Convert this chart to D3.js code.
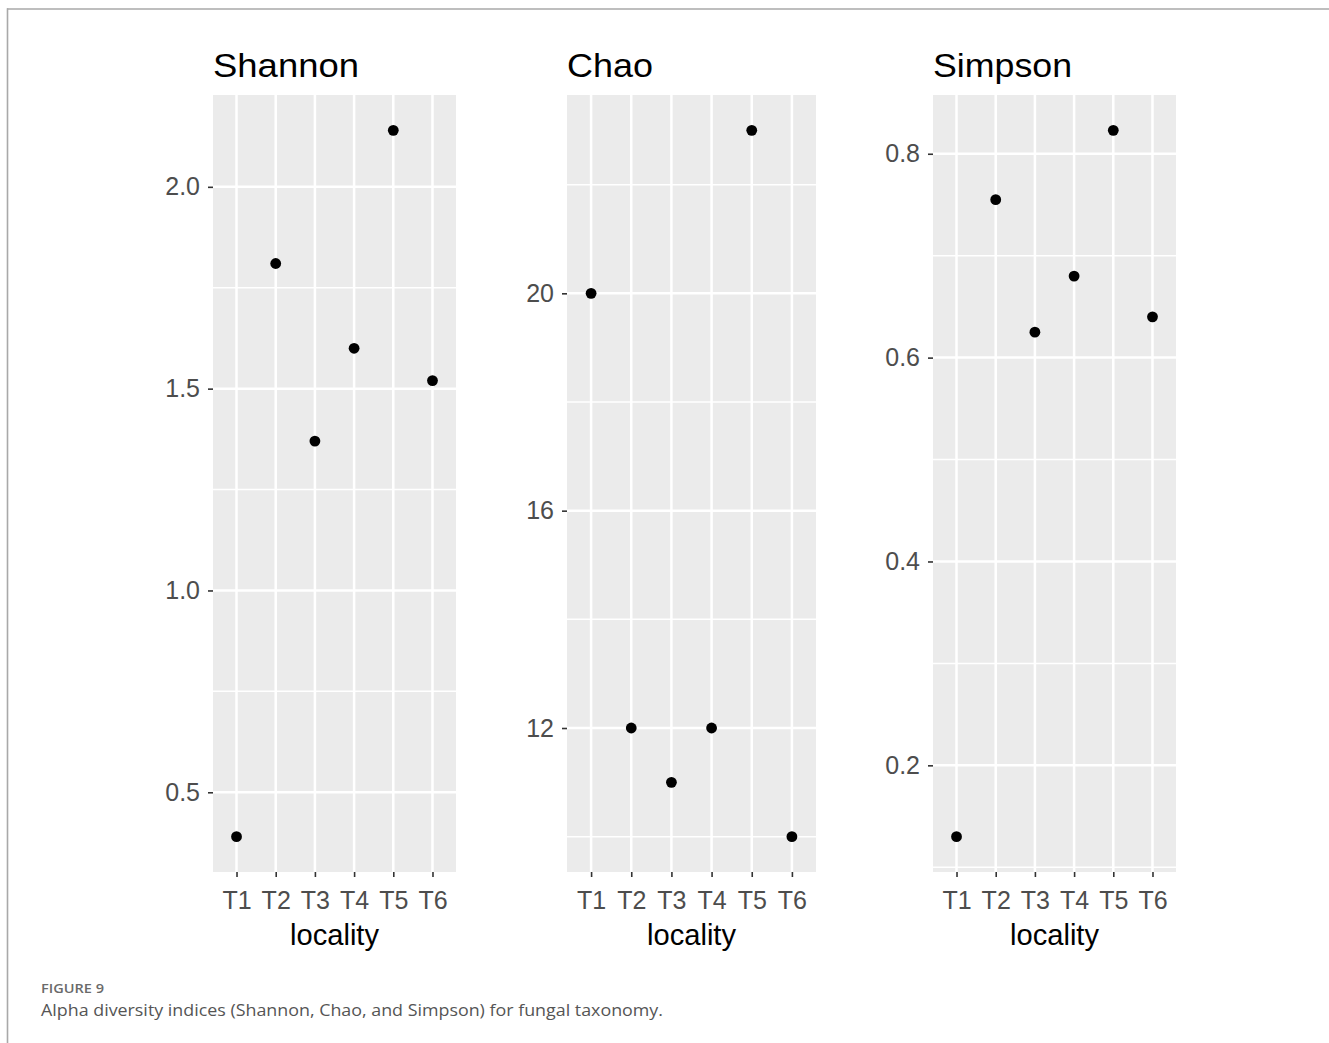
<!DOCTYPE html>
<html>
<head>
<meta charset="utf-8">
<script src="https://cdn.jsdelivr.net/npm/d3@7"></script>
<style>
  html, body { margin: 0; padding: 0; background: #fff; }
  svg { display: block; }
</style>
</head>
<body>
<svg id="fig" width="1329" height="1043"></svg>
<script>
// Alpha diversity per locality
const localities = ["T1", "T2", "T3", "T4", "T5", "T6"];
const shannon = [0.39, 1.81, 1.37, 1.60, 2.14, 1.52];
const chao = [20, 12, 11, 12, 23, 10];
const simpson = [0.13, 0.755, 0.625, 0.68, 0.823, 0.64];

// Axis breaks
const shannonTicks = [0.5, 1.0, 1.5, 2.0];
const chaoTicks = [12, 16, 20];
const simpsonTicks = [0.2, 0.4, 0.6, 0.8];
const shannonLabels = ["0.5", "1.0", "1.5", "2.0"];
const chaoLabels = ["12", "16", "20"];
const simpsonLabels = ["0.2", "0.4", "0.6", "0.8"];

const panelTitles = ["Shannon", "Chao", "Simpson"];
const xTitle = "locality";
const figureLabel = "FIGURE 9";
const captionText = "Alpha diversity indices (Shannon, Chao, and Simpson) for fungal taxonomy.";

// Layout
const panelTop = 95, panelBottom = 872;
const layout = [
  { left: 213, right: 456, titleWidth: 146 },
  { left: 567, right: 816, titleWidth: 86 },
  { left: 933, right: 1176, titleWidth: 139 }
];
const series = [shannon, chao, simpson];
const majors = [shannonTicks, chaoTicks, simpsonTicks];
const majorLabels = [shannonLabels, chaoLabels, simpsonLabels];

const svg = d3.select("#fig");
const font = "'Liberation Sans', Arial, sans-serif";

// page frame
svg.append("line").attr("x1", 7).attr("x2", 1329).attr("y1", 9).attr("y2", 9)
  .attr("stroke", "#a9a9a9").attr("stroke-width", 1.6);
svg.append("line").attr("x1", 7.5).attr("x2", 7.5).attr("y1", 8.2).attr("y2", 1043)
  .attr("stroke", "#a9a9a9").attr("stroke-width", 1.6);

series.forEach((vals, i) => {
  const L = layout[i];
  const g = svg.append("g");

  const x = d3.scalePoint().domain(localities).range([L.left, L.right]).padding(0.6);
  const [lo, hi] = d3.extent(vals);
  const pad = (hi - lo) * 0.05;
  const y = d3.scaleLinear().domain([lo - pad, hi + pad]).range([panelBottom, panelTop]);

  // minor breaks halfway between majors, within the domain
  const ticks = majors[i];
  const step = ticks[1] - ticks[0];
  const minors = [];
  for (let v = ticks[0] - step / 2; v <= y.domain()[1]; v += step) {
    if (v >= y.domain()[0]) minors.push(v);
  }

  // panel background
  g.append("rect").attr("x", L.left).attr("y", panelTop)
    .attr("width", L.right - L.left).attr("height", panelBottom - panelTop)
    .attr("fill", "#ebebeb");

  // minor grid
  g.selectAll(".minor").data(minors).join("line")
    .attr("x1", L.left).attr("x2", L.right)
    .attr("y1", d => y(d)).attr("y2", d => y(d))
    .attr("stroke", "#fff").attr("stroke-width", 1.5);

  // major grid
  g.selectAll(".hmajor").data(ticks).join("line")
    .attr("x1", L.left).attr("x2", L.right)
    .attr("y1", d => y(d)).attr("y2", d => y(d))
    .attr("stroke", "#fff").attr("stroke-width", 2.5);
  g.selectAll(".vmajor").data(localities).join("line")
    .attr("x1", d => x(d)).attr("x2", d => x(d))
    .attr("y1", panelTop).attr("y2", panelBottom)
    .attr("stroke", "#fff").attr("stroke-width", 2.5);

  // y axis
  const yAxis = d3.axisLeft(y).tickValues(ticks).tickSize(5).tickPadding(8)
    .tickFormat((d, k) => majorLabels[i][k]);
  const ya = g.append("g").attr("transform", `translate(${L.left},0)`).call(yAxis);
  ya.select(".domain").remove();
  ya.selectAll(".tick line").attr("stroke", "#333").attr("stroke-width", 1.6);
  ya.selectAll(".tick text").attr("fill", "#4d4d4d")
    .style("font-family", font).style("font-size", "25px");

  // x axis
  const xAxis = d3.axisBottom(x).tickSize(5).tickPadding(14);
  const xa = g.append("g").attr("transform", `translate(0,${panelBottom})`).call(xAxis);
  xa.select(".domain").remove();
  xa.selectAll(".tick line").attr("stroke", "#333").attr("stroke-width", 1.6);
  xa.selectAll(".tick text").attr("fill", "#4d4d4d")
    .style("font-family", font).style("font-size", "25px");

  // points
  g.selectAll(".pt").data(localities).join("circle")
    .attr("cx", d => x(d))
    .attr("cy", (d, k) => y(vals[k]))
    .attr("r", 5.4).attr("fill", "#000");

  // panel title
  g.append("text").attr("x", L.left).attr("y", 77)
    .attr("textLength", L.titleWidth).attr("lengthAdjust", "spacingAndGlyphs")
    .style("font-family", font).style("font-size", "33px").attr("fill", "#000")
    .text(panelTitles[i]);

  // x axis title
  g.append("text").attr("x", (L.left + L.right) / 2).attr("y", 945)
    .attr("text-anchor", "middle")
    .attr("textLength", 89).attr("lengthAdjust", "spacingAndGlyphs")
    .style("font-family", font).style("font-size", "30px").attr("fill", "#000")
    .text(xTitle);
});

// caption
svg.append("text").attr("x", 41).attr("y", 993)
  .attr("textLength", 63).attr("lengthAdjust", "spacingAndGlyphs")
  .style("font-family", "'Open Sans', sans-serif").style("font-size", "12.5px")
  .style("font-weight", 600).attr("fill", "#6a6a6a")
  .text(figureLabel);
svg.append("text").attr("x", 41).attr("y", 1016)
  .attr("textLength", 622).attr("lengthAdjust", "spacingAndGlyphs")
  .style("font-family", "'Open Sans', sans-serif").style("font-size", "16.5px")
  .attr("fill", "#555")
  .text(captionText);
</script>
</body>
</html>
